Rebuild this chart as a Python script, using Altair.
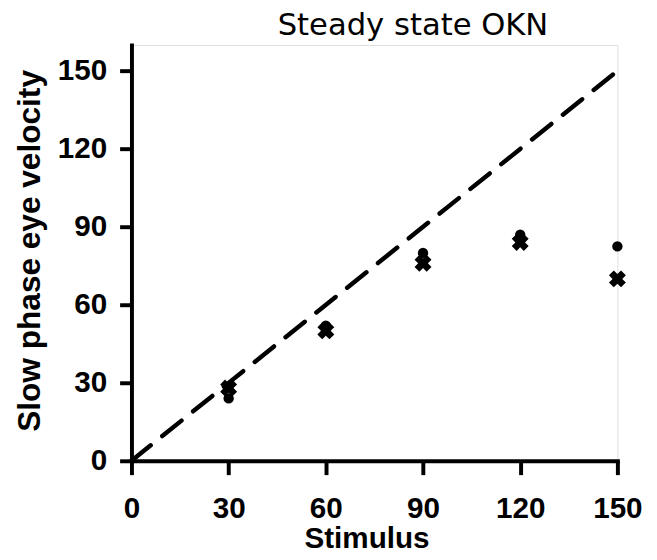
import altair as alt
import pandas as pd

# Data
stimulus = [30, 60, 90, 120, 150]
cross_velocity = [28, 50, 76, 84, 70]
dot_velocity = [24, 52, 80, 87, 82.5]
identity = [0, 150]
x_ticks = [0, 30, 60, 90, 120, 150]
y_ticks = [0, 30, 60, 90, 120, 150]

crosses = pd.DataFrame({"Stimulus": stimulus, "Velocity": cross_velocity})
dots = pd.DataFrame({"Stimulus": stimulus, "Velocity": dot_velocity})
line_df = pd.DataFrame({"Stimulus": identity, "Velocity": identity})

LFONT = "Liberation Sans"
TFONT = "DejaVu Sans"

xscale = alt.Scale(domain=[0, 150], nice=False)
yscale = alt.Scale(domain=[0, 160], nice=False)

x_axis = alt.Axis(
    values=x_ticks, title="Stimulus", grid=False, labelFlush=False,
    domainWidth=4, domainColor="black", domainCap="square",
    tickWidth=4, tickColor="black", tickSize=14,
    labelPadding=19, labelFontSize=30, labelFont=LFONT, labelFontWeight="bold",
    labelColor="black",
    titleFontSize=30, titleFont=LFONT, titleFontWeight="bold", titleColor="black",
    titleX=238, titleY=88, titleBaseline="alphabetic",
)
y_axis = alt.Axis(
    values=y_ticks, title="Slow phase eye velocity", grid=False, labelFlush=False,
    domainWidth=4, domainColor="black", domainCap="square",
    tickWidth=4, tickColor="black", tickSize=12,
    labelPadding=13, labelFontSize=30, labelFont=LFONT, labelFontWeight="bold",
    labelColor="black",
    titleFontSize=32, titleFont=LFONT, titleFontWeight="bold", titleColor="black",
    titleX=-93, titleY=208, titleBaseline="alphabetic",
)

line = alt.Chart(line_df).mark_line(
    color="black", strokeWidth=4.5, strokeDash=[25, 15], strokeCap="round"
).encode(
    x=alt.X("Stimulus:Q", scale=xscale, axis=x_axis),
    y=alt.Y("Velocity:Q", scale=yscale, axis=y_axis),
)

cross_pts = alt.Chart(crosses).mark_point(
    shape="cross", angle=45, filled=True, color="black", size=300, opacity=1
).encode(
    x=alt.X("Stimulus:Q", scale=xscale),
    y=alt.Y("Velocity:Q", scale=yscale),
)

dot_pts = alt.Chart(dots).mark_point(
    shape="circle", filled=True, color="black", size=110, opacity=1
).encode(
    x=alt.X("Stimulus:Q", scale=xscale),
    y=alt.Y("Velocity:Q", scale=yscale),
)

chart = alt.layer(line, cross_pts, dot_pts).properties(
    width=492,
    height=421,
    title=alt.TitleParams(
        "Steady state OKN", fontSize=31, font=TFONT, fontWeight="normal",
        color="black", anchor="middle", dx=39, offset=3,
    ),
    autosize=alt.AutoSizeParams(type="none"),
    padding={"left": 125, "top": 34, "right": 32, "bottom": 97},
).configure_view(stroke=None).configure(background="white")

chart.save("out.html", embed_options={"renderer": "svg", "actions": False})
